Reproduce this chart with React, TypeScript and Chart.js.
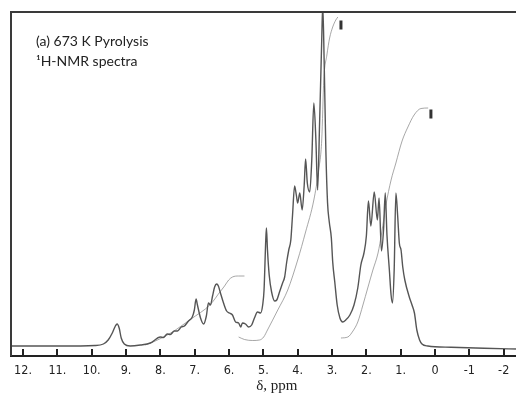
import React, { useEffect, useRef } from "react";
import { Chart, registerables } from "chart.js";

Chart.register(...registerables);

// ---- data (chemical shift in ppm, intensity in arbitrary units, baseline = 0) ----
const specPpm = [
  12.35, 10.92, 9.9, 9.66, 9.52, 9.4, 9.31, 9.26, 9.2, 9.14, 9.05, 8.88, 8.58, 8.29, 8.0, 7.91, 7.8, 7.71, 7.59, 7.5,
  7.39, 7.3, 7.18, 7.07, 7.01, 6.96, 6.92, 6.83, 6.74, 6.66, 6.6, 6.54, 6.48, 6.42, 6.36, 6.31, 6.25, 6.16, 6.07, 5.99,
  5.9, 5.81, 5.72, 5.66, 5.61, 5.52, 5.43, 5.34, 5.26, 5.17, 5.08, 5.02, 4.98, 4.93, 4.91, 4.88, 4.83, 4.76, 4.67, 4.61,
  4.53, 4.44, 4.38, 4.32, 4.26, 4.2, 4.15, 4.09, 4.04, 4.0, 3.94, 3.87, 3.81, 3.77, 3.72, 3.65, 3.59, 3.53, 3.47, 3.42,
  3.36, 3.3, 3.27, 3.23, 3.18, 3.13, 3.08, 3.02, 2.98, 2.92, 2.85, 2.77, 2.69, 2.6, 2.48, 2.36, 2.25, 2.16, 2.07, 2.0,
  1.94, 1.87, 1.77, 1.68, 1.63, 1.56, 1.5, 1.45, 1.4, 1.33, 1.28, 1.24, 1.19, 1.14, 1.09, 1.04, 0.99, 0.94, 0.88, 0.75,
  0.67, 0.6, 0.53, 0.45, 0.38, 0.21, -0.47, -1.43, -2.39, -3.15,
];
const specInt = [
  0, 0, 0.5, 2, 6, 13, 20, 22, 18, 8, 2, 0, 1, 3, 9, 8.5, 12, 11.5, 15, 15,
  19, 20, 25, 29, 36, 47, 41, 28, 22, 30, 43, 41, 50, 59, 62, 60, 53, 43, 35, 33,
  31, 24, 23, 19, 23, 22, 19, 21, 28, 34, 33, 41, 56, 106, 118, 96, 71, 54, 45, 46,
  54, 63, 69, 84, 96, 106, 131, 160, 151, 143, 153, 136, 161, 187, 163, 154, 186, 243, 206, 156,
  226, 306, 341, 286, 196, 143, 124, 108, 84, 64, 41, 28, 24, 26, 31, 41, 58, 81, 93, 110,
  145, 120, 154, 126, 148, 95, 116, 153, 111, 76, 51, 43, 76, 153, 131, 103, 96, 79, 66, 49,
  41, 33, 16, 6, 2, 0, -1.3, -2.3, -3, -3.5,
];

// integral traces
const int1Ppm = [8.44, 8.15, 7.85, 7.56, 7.27, 6.98, 6.69, 6.48, 6.31, 6.13, 6.01, 5.9, 5.72, 5.55];
const int1Val = [1, 5, 10, 16, 23, 30, 37, 44, 52, 60, 66, 69, 70, 70];

const int2Ppm = [5.72, 5.55, 5.31, 5.11, 4.99, 4.88, 4.58, 4.29, 4.0, 3.77, 3.53, 3.39, 3.3, 3.24, 3.15, 3.07, 2.98, 2.89, 2.83];
const int2Val = [9, 6.5, 5.5, 6, 9, 16, 36, 56, 86, 114, 146, 176, 206, 266, 291, 308, 319, 326, 329];

const int3Ppm = [2.74, 2.54, 2.39, 2.25, 2.1, 1.96, 1.81, 1.66, 1.55, 1.43, 1.28, 1.14, 0.96, 0.79, 0.61, 0.41, 0.2];
const int3Val = [8, 9, 15, 24, 41, 58, 76, 93, 114, 141, 166, 183, 205, 219, 231, 237.5, 238];

// integral end marks
const markPpm = [2.74, 0.12];
const markVal = [321, 232];

// axis
const tickValues = [12, 11, 10, 9, 8, 7, 6, 5, 4, 3, 2, 1, 0, -1, -2];
const tickLabels = ["12.", "11.", "10.", "9.", "8.", "7.", "6.", "5.", "4.", "3.", "2.", "1.", "0", "-1", "-2"];
const axisTitle = "\u03b4, ppm";
const titleLines = ["(a) 673 K Pyrolysis", "\u00b9H-NMR spectra"];

const zip = (xs: number[], ys: number[]) => xs.map((x, i) => ({ x, y: ys[i] }));

const decorPlugin = {
  id: "decor",
  afterDraw(chart: any) {
    const { ctx, chartArea, scales } = chart;
    const xs = scales.x;
    ctx.save();
    ctx.strokeStyle = "#3a3a3a";
    ctx.lineWidth = 2;
    ctx.beginPath();
    ctx.moveTo(chartArea.left, chartArea.bottom);
    ctx.lineTo(chartArea.left, chartArea.top);
    ctx.lineTo(chartArea.right, chartArea.top);
    ctx.stroke();
    ctx.strokeStyle = "#222";
    xs.ticks.forEach((t: any) => {
      const px = Math.round(xs.getPixelForValue(t.value));
      ctx.beginPath();
      ctx.moveTo(px, chartArea.bottom);
      ctx.lineTo(px, chartArea.bottom - 7);
      ctx.stroke();
    });
    ctx.fillStyle = "#222";
    ctx.font = "14px Lato";
    ctx.textAlign = "left";
    ctx.textBaseline = "alphabetic";
    ctx.fillText(titleLines[0], chartArea.left + 25, chartArea.top + 34);
    ctx.fillText(titleLines[1], chartArea.left + 25, chartArea.top + 54);
    ctx.restore();
  },
};

export default function App() {
  const ref = useRef<HTMLCanvasElement>(null);

  useEffect(() => {
    const chart = new Chart(ref.current as HTMLCanvasElement, {
      type: "line",
      data: {
        datasets: [
          {
            data: zip(specPpm, specInt),
            borderColor: "#555",
            borderWidth: 1.4,
            pointRadius: 0,
            cubicInterpolationMode: "monotone",
          },
          {
            data: zip(int1Ppm, int1Val),
            borderColor: "rgba(130,130,130,0.7)",
            borderWidth: 1,
            pointRadius: 0,
            cubicInterpolationMode: "monotone",
          },
          {
            data: zip(int2Ppm, int2Val),
            borderColor: "rgba(130,130,130,0.7)",
            borderWidth: 1,
            pointRadius: 0,
            cubicInterpolationMode: "monotone",
          },
          {
            data: zip(int3Ppm, int3Val),
            borderColor: "rgba(130,130,130,0.7)",
            borderWidth: 1,
            pointRadius: 0,
            cubicInterpolationMode: "monotone",
          },
          {
            data: zip(markPpm, markVal),
            showLine: false,
            pointStyle: "line",
            rotation: 90,
            pointRadius: 4.5,
            borderWidth: 3,
            borderColor: "#333",
          },
        ],
      } as any,
      options: {
        animation: false,
        responsive: false,
        devicePixelRatio: 1,
        events: [],
        layout: { padding: { left: 11, top: 12, right: 0, bottom: 0 } },
        plugins: { legend: { display: false }, tooltip: { enabled: false } },
        scales: {
          x: {
            type: "linear",
            reverse: true,
            min: -3.13,
            max: 12.35,
            grid: { display: false, drawTicks: false },
            border: { display: true, color: "#222", width: 2 },
            afterBuildTicks: (scale: any) => {
              scale.ticks = tickValues.map((v) => ({ value: v }));
            },
            afterFit: (scale: any) => {
              scale.height = 40;
              scale.paddingLeft = 0;
              scale.paddingRight = 0;
            },
            ticks: {
              autoSkip: false,
              maxRotation: 0,
              padding: 7,
              color: "#222",
              font: { family: "'Liberation Sans Narrow', 'DejaVu Sans Condensed', Lato, sans-serif", size: 12.5 },
              callback: (v: any) => {
                const i = tickValues.indexOf(Number(v));
                return i >= 0 ? tickLabels[i] : "";
              },
            },
            title: {
              display: true,
              text: axisTitle,
              color: "#222",
              padding: { top: 0, bottom: 1 },
              font: { family: "'Liberation Serif', 'DejaVu Serif', serif", size: 15 },
            },
          },
          y: {
            display: false,
            min: -10,
            max: 334,
          },
        },
      } as any,
      plugins: [decorPlugin],
    });
    return () => chart.destroy();
  }, []);

  return (
    <div
      style={{
        position: "absolute",
        left: 0,
        top: 0,
        width: 516,
        height: 396,
        overflow: "hidden",
        background: "#fff",
      }}
    >
      <canvas ref={ref} width={550} height={396} style={{ display: "block", width: 550, height: 396 }} />
    </div>
  );
}
